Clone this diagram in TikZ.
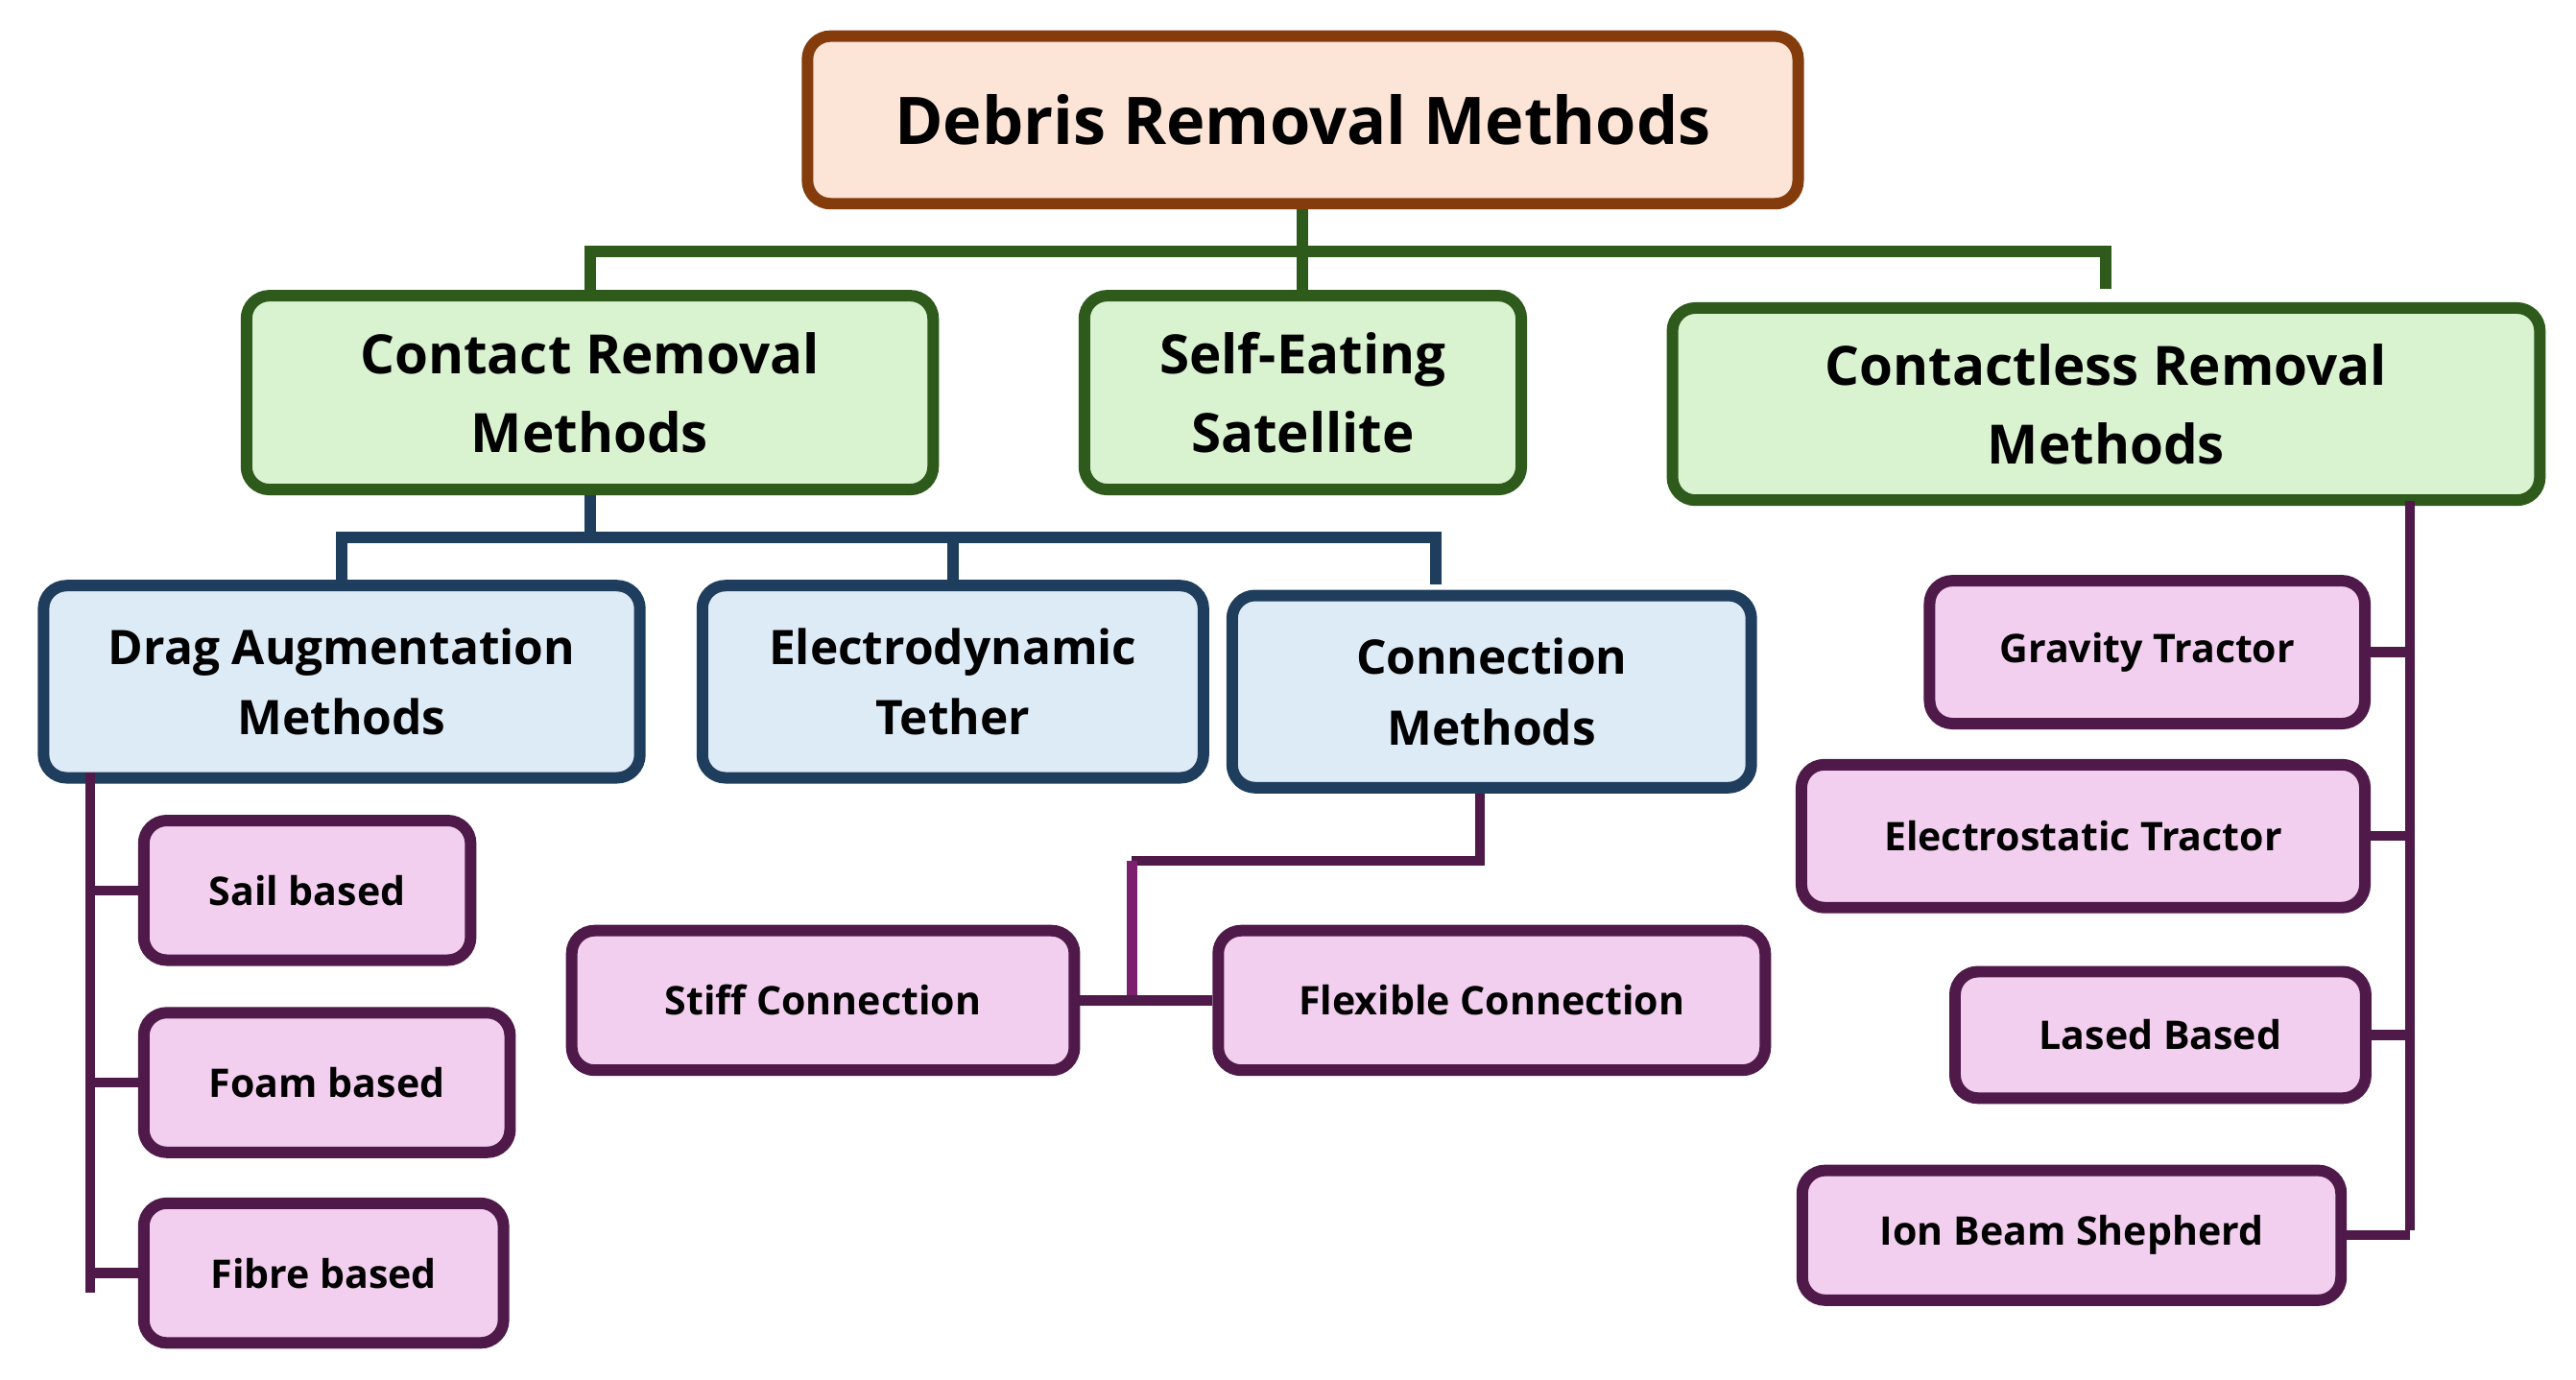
\documentclass[tikz,border=0pt]{standalone}
\usepackage{fontspec}
\setmainfont{Open Sans}
\begin{document}
\begin{tikzpicture}[x=1pt,y=-1pt,
 box/.style={rounded corners=14pt,line width=7pt,align=center,inner sep=0pt,font=\bfseries},
 tbox/.style={box,draw=tb,fill=tf,font=\fontsize{40}{48}\selectfont\bfseries},
 gbox/.style={box,draw=gb,fill=gf,font=\fontsize{33}{48}\selectfont\bfseries},
 bbox/.style={box,draw=bb,fill=bf,font=\fontsize{29}{43}\selectfont\bfseries},
 pbox/.style={box,draw=pb,fill=pf,font=\fontsize{24}{30}\selectfont\bfseries},
 gl/.style={draw=gb,line width=7pt},
 bl/.style={draw=bb,line width=7pt},
 pl/.style={draw=pb,line width=6pt}]
\definecolor{tb}{HTML}{843C0C}\definecolor{tf}{HTML}{FCE4D6}
\definecolor{gb}{HTML}{2E5A1C}\definecolor{gf}{HTML}{D9F2D0}
\definecolor{bb}{HTML}{1F3D5C}\definecolor{bf}{HTML}{DDEBF7}
\definecolor{pb}{HTML}{4F1A4A}\definecolor{pf}{HTML}{F2CEEF}
\definecolor{pm}{HTML}{7B1F6E}
\useasboundingbox (0,0) rectangle (1568,840);
\node[tbox,minimum width=603,minimum height=102] (t) at (793,73) {Debris Removal Methods};
\node[gbox,minimum width=418,minimum height=118] (cr) at (359,239) {Contact Removal\\Methods};
\node[gbox,minimum width=266,minimum height=118] (se) at (793,239) {Self-Eating\\Satellite};
\node[gbox,minimum width=528,minimum height=117] (cl) at (1282,246) {Contactless Removal\\Methods};
\node[bbox,minimum width=363,minimum height=117] (da) at (208,415) {Drag Augmentation\\Methods};
\node[bbox,minimum width=305,minimum height=117] (ed) at (580,415) {Electrodynamic\\Tether};
\node[bbox,minimum width=316,minimum height=117] (cm) at (908,421) {Connection\\Methods};
\node[pbox,minimum width=199,minimum height=85] (sa) at (187,542) {Sail based};
\node[pbox,minimum width=223,minimum height=85] (fo) at (199,659) {Foam based};
\node[pbox,minimum width=219,minimum height=85] (fi) at (197,775) {Fibre based};
\node[pbox,minimum width=306,minimum height=85] (st) at (501,609) {Stiff Connection};
\node[pbox,minimum width=333,minimum height=85] (fl) at (908,609) {Flexible Connection};
\node[pbox,minimum width=265,minimum height=87] (gr) at (1307,397) {Gravity Tractor};
\node[pbox,minimum width=343,minimum height=87] (es) at (1268,509) {Electrostatic Tractor};
\node[pbox,minimum width=250,minimum height=77] (la) at (1315,630) {Lased Based};
\node[pbox,minimum width=328,minimum height=79] (io) at (1261,752) {Ion Beam Shepherd};
% green
\coordinate (g) at (0,153);
\draw[gl] (t.south) -- (se.north);
\draw[gl] (cr.north) -- (cr.north |- g) -- (cl.north |- g) -- ([yshift=8pt]cl.north);
% blue
\coordinate (b) at (0,327);
\coordinate (bm) at (874,0);
\draw[bl] (cr.south) -- (cr.south |- b);
\draw[bl] (da.north) -- (da.north |- b) -- (bm |- b) -- ([yshift=3pt]bm |- cm.north);
\draw[bl] (ed.north) -- (ed.north |- b);
% purple left
\coordinate (lx) at (55,470);
\coordinate (le) at (55,787);
\draw[pl] (lx) -- (le);
\draw[pl] (sa.west) -- (sa.west -| lx);
\draw[pl] (fo.west) -- (fo.west -| lx);
\draw[pl] (fi.west) -- (fi.west -| lx);
% connection
\coordinate (c1) at (901,524);
\coordinate (c2) at (689,524);
\coordinate (c3) at (689,607);
\draw[pl] ([xshift=-7pt]cm.south) -- ([xshift=-7pt]cm.south |- c1) -- (c2);
\draw[draw=pm,line width=6pt] (c2) -- (c3);
\draw[pl] (st.east) -- (fl.west);
% purple right
\coordinate (rx) at (1467,305);
\coordinate (re) at (1467,749);
\draw[pl] (rx) -- (re);
\draw[pl] (gr.east) -- (gr.east -| rx);
\draw[pl] (es.east) -- (es.east -| rx);
\draw[pl] (la.east) -- (la.east -| rx);
\draw[pl] (io.east) -- (io.east -| rx);
\end{tikzpicture}
\end{document}
